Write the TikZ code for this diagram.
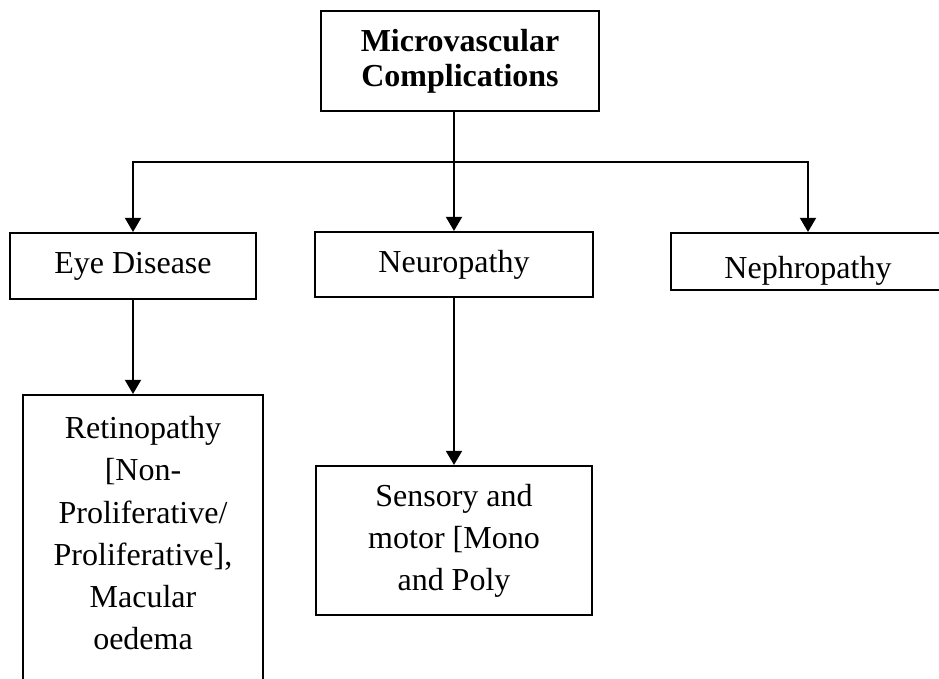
\documentclass[tikz,border=0pt]{standalone}
\usepackage{fontspec}
\setmainfont{Liberation Serif}
\usepackage{tikz}
\usetikzlibrary{arrows.meta,positioning}

\begin{document}
\begin{tikzpicture}[
    x=0.375pt, y=-0.375pt,
    box/.style={draw, line width=0.75pt, align=center, inner sep=2pt, font=\fontsize{12}{15.8}\selectfont},
    arrow/.style={-{Triangle[length=5.3pt,width=6pt]}, line width=0.75pt}
]
\useasboundingbox (0,0) rectangle (939,679);

\node[box, font=\bfseries\fontsize{12}{13}\selectfont, minimum width=104.25pt, minimum height=37.5pt] (mc) at (460,61) {Microvascular\\Complications};
\node[box, minimum width=92.25pt, minimum height=24.75pt] (eye) at (133,266) {Eye Disease};
\node[box, minimum width=104.25pt, minimum height=24.4pt] (neuro) at (454,264.5) {Neuropathy};
\node[box, minimum width=102.75pt, minimum height=21.4pt, text height=12.4pt, text depth=0pt] (nephro) at (808,261.5) {Nephropathy};
\node[box, minimum width=90pt, minimum height=112.5pt] (retino) at (143,545) {Retinopathy\\{}[Non-\\Proliferative/\\Proliferative],\\Macular\\oedema\\[-6.8pt]\mbox{}};
\node[box, minimum width=103.5pt, minimum height=55.9pt] (sensory) at (454,540.5) {Sensory and\\motor [Mono\\and Poly};
\coordinate (hub) at (454,162);

\draw[arrow] (mc.south -| neuro.north) -- (neuro);
\draw[arrow] (hub) -| (eye);
\draw[arrow] (hub) -| (nephro);
\draw[arrow] (eye) -- (eye.south |- retino.north);
\draw[arrow] (neuro) -- (sensory);
\end{tikzpicture}
\end{document}
